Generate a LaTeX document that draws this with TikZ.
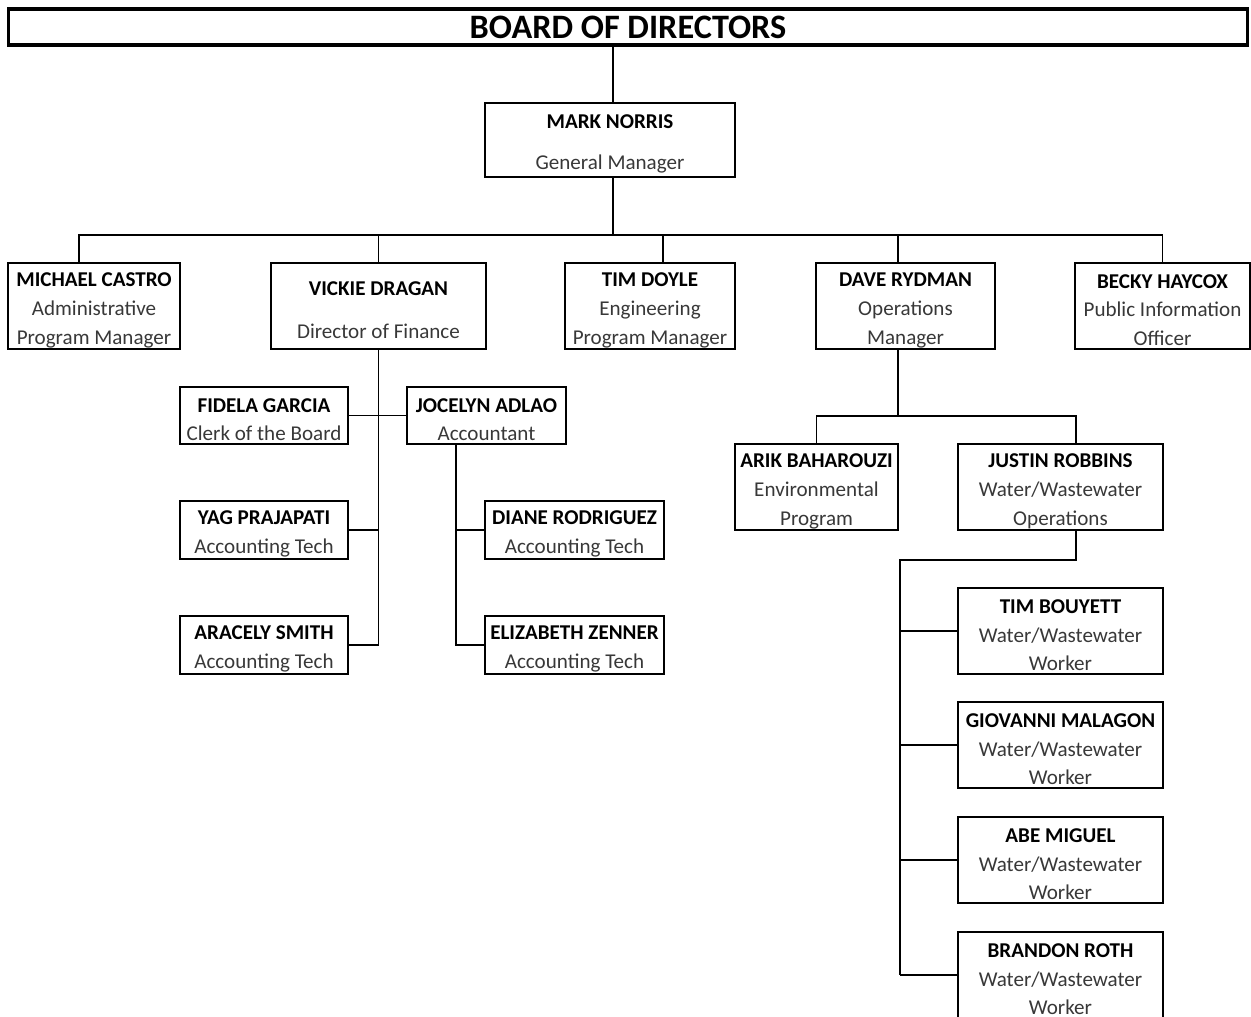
\documentclass[tikz,border=0pt]{standalone}
\usepackage{fontspec}
\setmainfont{Carlito}
\usetikzlibrary{positioning}
\newcommand{\who}[1]{{\color{black}\bfseries\rule{0pt}{12.6pt}#1}}
\tikzset{
	board/.style={
		rectangle,
		draw,
		line width=1.8pt,
		minimum width=24.8cm,
		minimum height=0.72cm,
		inner sep=0pt,
		font=\fontsize{19.5}{22}\selectfont\bfseries
	},
	personT/.style={
		rectangle,
		draw,
		line width=1.1pt,
		minimum height=1.72cm,
		inner sep=0pt,
		align=center,
		text=black!78,
		font=\fontsize{12}{16.4}\selectfont
	},
	personS/.style={
		personT,
		minimum height=1.15cm
	},
	link/.style={
		line width=1.1pt
	}
}

\begin{document}
\begin{tikzpicture}[x=0.02cm,y=-0.02cm]
	\useasboundingbox (0,0) rectangle (1251,1017);
	\node [board] (bod) at (628,27) {BOARD OF DIRECTORS};
	\node [personT,minimum width=5cm,minimum height=1.48cm] (norris) at (610,140) {\who{MARK NORRIS}\\[7pt]General Manager};
	% managers
	\node [personT,minimum width=3.44cm] (castro) at (94,306) {\who{MICHAEL CASTRO}\\Administrative\\Program Manager};
	\node [personT,minimum width=4.3cm] (dragan) at (378.5,306) {\who{VICKIE DRAGAN}\\[8pt]Director of Finance};
	\node [personT,minimum width=3.4cm] (doyle) at (650,306) {\who{TIM DOYLE}\\Engineering\\Program Manager};
	\node [personT,minimum width=3.58cm] (rydman) at (905.5,306) {\who{DAVE RYDMAN}\\Operations\\Manager};
	\node [personT,minimum width=3.5cm] (haycox) at (1162.5,306) {\who{BECKY HAYCOX}\\Public Information\\Officer};
	% finance
	\node [personS,minimum width=3.36cm] (garcia) at (264,415.5) {\who{FIDELA GARCIA}\\Clerk of the Board};
	\node [personS,minimum width=3.18cm] (adlao) at (486.5,415.5) {\who{JOCELYN ADLAO}\\Accountant};
	\node [personS,minimum width=3.36cm] (prajapati) at (264,530) {\who{YAG PRAJAPATI}\\Accounting Tech};
	\node [personS,minimum width=3.36cm] (smith) at (264,645) {\who{ARACELY SMITH}\\Accounting Tech};
	\node [personS,minimum width=3.58cm] (rodriguez) at (574.5,530) {\who{DIANE RODRIGUEZ}\\Accounting Tech};
	\node [personS,minimum width=3.58cm] (zenner) at (574.5,645) {\who{ELIZABETH ZENNER}\\Accounting Tech};
	% operations
	\node [personT,minimum width=3.26cm] (baharouzi) at (816.5,487) {\who{ARIK BAHAROUZI}\\Environmental\\Program};
	\node [personT,minimum width=4.1cm] (robbins) at (1060.5,487) {\who{JUSTIN ROBBINS}\\Water/Wastewater\\Operations};
	\node [personT,minimum width=4.1cm] (bouyett) at (1060.5,631) {\who{TIM BOUYETT}\\Water/Wastewater\\Worker};
	\node [personT,minimum width=4.1cm] (malagon) at (1060.5,745) {\who{GIOVANNI MALAGON}\\Water/Wastewater\\Worker};
	\node [personT,minimum width=4.1cm] (miguel) at (1060.5,860) {\who{ABE MIGUEL}\\Water/Wastewater\\Worker};
	\node [personT,minimum width=4.1cm] (roth) at (1060.5,975) {\who{BRANDON ROTH}\\Water/Wastewater\\Worker};

	\coordinate (bus) at (613,235);
	\coordinate (rbus) at (898,416);
	\coordinate (wbus) at (900,560);
	\coordinate (astem) at ([xshift=-0.61cm]adlao.south);
	\draw [link] ([xshift=0.06cm]norris.north) -- ([xshift=0.06cm]norris.north |- bod.south);
	\draw [link] ([xshift=0.06cm]norris.south) -- (bus);
	\draw [link] ([xshift=-0.3cm]castro.north) |- (bus) -| ([xshift=0.26cm]doyle.north);
	\draw [link] (bus) -| (haycox.north);
	\draw [link] (dragan.north) -- (dragan.north |- bus);
	\draw [link] ([xshift=-0.15cm]rydman.north) -- ([xshift=-0.15cm]rydman.north |- bus);
	% finance links
	\draw [link] (dragan.south) |- (smith.east);
	\draw [link] (garcia.east) -- (adlao.west);
	\draw [link] (prajapati.east) -- (prajapati.east -| dragan.south);
	\draw [link] (astem) |- (zenner.west);
	\draw [link] (rodriguez.west) -- (rodriguez.west -| astem);
	% operations links
	\draw [link] ([xshift=-0.15cm]rydman.south) -- (rbus);
	\draw [link] (baharouzi.north) |- (rbus) -| ([xshift=0.31cm]robbins.north);
	\draw [link] ([xshift=0.31cm]robbins.south) |- (wbus) -- (wbus |- roth.west);
	\foreach \w in {bouyett,malagon,miguel,roth}
		\draw [link] (\w.west) -- (\w.west -| wbus);
\end{tikzpicture}
\end{document}
